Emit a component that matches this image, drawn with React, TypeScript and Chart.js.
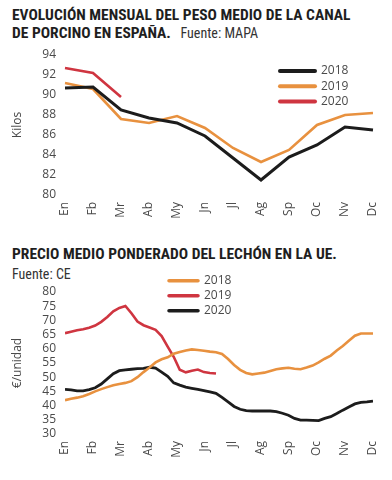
import React, { useEffect, useRef } from "react";
import { Chart, registerables } from "chart.js";

Chart.register(...registerables);

// ---------- data ----------
const MONTHS = ["En", "Fb", "Mr", "Ab", "My", "Jn", "Jl", "Ag", "Sp", "Oc", "Nv", "Dc"];

const PESO_2018 = [90.7, 90.8, 88.5, 87.7, 87.2, 85.9, 83.7, 81.5, 83.8, 85.0, 86.8, 86.5];
const PESO_2019 = [91.2, 90.6, 87.6, 87.2, 87.9, 86.7, 84.7, 83.3, 84.5, 87.0, 88.0, 88.2];
const PESO_2020 = [92.7, 92.2, 89.8];
const PESO_MIN = 80;
const PESO_MAX = 94;
const PESO_STEP = 2;

const LECHON_2018 = [
  41.9, 42.4, 42.8, 43.3, 44.1, 45.0, 45.8, 46.5, 47.2, 47.6,
  48.0, 48.6, 50.0, 51.8, 53.4, 55.2, 56.3, 57.0, 58.3, 58.9,
  59.4, 59.8, 59.6, 59.3, 59.0, 58.8, 58.2, 56.4, 54.3, 52.6,
  51.5, 51.0, 51.3, 51.6, 52.2, 52.8, 53.1, 53.3, 53.0, 52.8,
  53.4, 54.1, 55.2, 56.5, 57.6, 59.4, 61.0, 62.8, 64.6, 65.4,
  65.4, 65.4,
];
const LECHON_2019 = [
  65.5, 66.0, 66.5, 66.9, 67.4, 68.2, 69.5, 71.2, 73.2, 74.4,
  75.1, 72.5, 69.6, 68.3, 67.5, 66.7, 64.5, 60.8, 57.2, 52.6,
  51.7, 52.3, 52.7, 51.8, 51.5, 51.3,
];
const LECHON_2020 = [
  45.7, 45.5, 45.2, 45.2, 45.6, 46.3, 47.6, 49.4, 51.2, 52.3,
  52.6, 52.8, 53.0, 53.1, 53.5, 53.2, 51.8, 50.3, 48.0, 47.2,
  46.5, 46.1, 45.7, 45.3, 44.8, 44.3, 42.9, 41.3, 39.7, 38.7,
  38.2, 38.1, 38.1, 38.1, 38.1, 37.9, 37.3, 36.6, 35.5, 34.9,
  34.9, 34.8, 34.7, 35.5, 36.1, 37.2, 38.4, 39.5, 40.6, 41.1,
  41.3, 41.6,
];
const LECHON_MIN = 30;
const LECHON_MAX = 80;
const LECHON_STEP = 5;
const WEEKS_LAST = 51;

// ---------- styles ----------
const BLACK = "#1c1c1c";
const ORANGE = "#E8913F";
const RED = "#CF3540";
const TICK_COLOR = "#4a4a4a";
const TICK_FONT = { family: "'Open Sans', sans-serif", size: 12, lineHeight: 1 };
const TITLE_FAMILY = "'Liberation Sans Narrow', 'Roboto Condensed', Roboto, sans-serif";

const lineLegend = {
  id: "lineLegend",
  afterDraw(chart: any, _args: any, opts: any) {
    const { ctx } = chart;
    chart.data.datasets.forEach((ds: any, i: number) => {
      const yy = opts.y + i * opts.gap;
      ctx.save();
      ctx.strokeStyle = ds.borderColor;
      ctx.lineWidth = opts.lineWidth;
      ctx.lineCap = "round";
      ctx.beginPath();
      ctx.moveTo(opts.x, yy);
      ctx.lineTo(opts.x + opts.lineLen, yy);
      ctx.stroke();
      ctx.fillStyle = TICK_COLOR;
      ctx.font = "12px 'Open Sans', sans-serif";
      ctx.textBaseline = "middle";
      ctx.textAlign = "left";
      ctx.fillText(ds.label, opts.x + opts.lineLen + opts.textGap, yy);
      ctx.restore();
    });
  },
};

function yAxis(min: number, max: number, step: number, title: string) {
  return {
    min,
    max,
    afterFit: (s: any) => {
      s.width = 65;
    },
    grid: { display: false, drawTicks: false },
    border: { display: false },
    ticks: {
      stepSize: step,
      color: TICK_COLOR,
      font: TICK_FONT,
      padding: 9,
      autoSkip: false,
    },
    title: {
      display: true,
      text: title,
      color: TICK_COLOR,
      font: { family: "'Open Sans', sans-serif", size: 12 },
      padding: { top: 10, bottom: 0 },
    },
  };
}

function PesoChart() {
  const ref = useRef<HTMLCanvasElement>(null);
  useEffect(() => {
    const chart = new Chart(ref.current!, {
      type: "line",
      data: {
        labels: MONTHS,
        datasets: [
          { label: "2018", data: PESO_2018, borderColor: BLACK, borderWidth: 3 },
          { label: "2019", data: PESO_2019, borderColor: ORANGE, borderWidth: 2.6 },
          { label: "2020", data: PESO_2020, borderColor: RED, borderWidth: 2.6 },
        ],
      },
      options: {
        animation: false,
        responsive: true,
        maintainAspectRatio: false,
        elements: { point: { radius: 0 }, line: { tension: 0 } },
        layout: { padding: { top: 15, right: 15, left: 0, bottom: 0 } },
        plugins: {
          legend: { display: false },
          tooltip: { enabled: false },
          lineLegend: { x: 280, y: 31, gap: 15.3, lineLen: 35, textGap: 6, lineWidth: 4 },
        } as any,
        scales: {
          x: {
            afterFit: (s: any) => {
              s.height = 30;
            },
            grid: { display: false, drawTicks: false },
            border: { display: false },
            ticks: {
              color: TICK_COLOR,
              font: TICK_FONT,
              maxRotation: 90,
              minRotation: 90,
              autoSkip: false,
              padding: 7,
            },
          },
          y: yAxis(PESO_MIN, PESO_MAX, PESO_STEP, "Kilos") as any,
        },
      },
      plugins: [lineLegend],
    });
    return () => chart.destroy();
  }, []);
  return <canvas ref={ref} />;
}

function LechonChart() {
  const ref = useRef<HTMLCanvasElement>(null);
  useEffect(() => {
    const pts = (arr: number[]) => arr.map((v, w) => ({ x: w, y: v }));
    const chart = new Chart(ref.current!, {
      type: "line",
      data: {
        datasets: [
          { label: "2018", data: pts(LECHON_2018), borderColor: ORANGE, borderWidth: 2.6 },
          { label: "2019", data: pts(LECHON_2019), borderColor: RED, borderWidth: 2.6 },
          { label: "2020", data: pts(LECHON_2020), borderColor: BLACK, borderWidth: 2.8 },
        ],
      },
      options: {
        animation: false,
        responsive: true,
        maintainAspectRatio: false,
        elements: { point: { radius: 0 }, line: { tension: 0 } },
        layout: { padding: { top: 17, right: 15, left: 0, bottom: 0 } },
        plugins: {
          legend: { display: false },
          tooltip: { enabled: false },
          lineLegend: { x: 169, y: 5.7, gap: 15, lineLen: 29, textGap: 6, lineWidth: 3.5 },
        } as any,
        scales: {
          x: {
            type: "linear",
            min: 0,
            max: WEEKS_LAST,
            afterFit: (s: any) => {
              s.height = 46;
            },
            afterBuildTicks: (s: any) => {
              s.ticks = MONTHS.map((_, i) => ({ value: (i * WEEKS_LAST) / (MONTHS.length - 1) }));
            },
            grid: { display: false, drawTicks: false },
            border: { display: false },
            ticks: {
              color: TICK_COLOR,
              font: TICK_FONT,
              maxRotation: 90,
              minRotation: 90,
              autoSkip: false,
              padding: 7,
              callback: (_v: any, i: number) => MONTHS[i],
            },
          } as any,
          y: yAxis(LECHON_MIN, LECHON_MAX, LECHON_STEP, "€/unidad") as any,
        },
      },
      plugins: [lineLegend],
    });
    return () => chart.destroy();
  }, []);
  return <canvas ref={ref} />;
}

const titleStyle: React.CSSProperties = {
  position: "absolute",
  left: 12,
  fontFamily: TITLE_FAMILY,
  fontWeight: 700,
  fontSize: 15.5,
  color: "#1e1e1e",
  whiteSpace: "nowrap",
  lineHeight: "18px",
};
const srcStyle: React.CSSProperties = {
  fontWeight: 400,
  fontSize: 14,
  color: "#333",
};

export default function App() {
  return (
    <div
      style={{
        position: "fixed",
        left: 0,
        top: 0,
        width: 392,
        height: 480,
        background: "#fff",
        overflow: "hidden",
      }}
    >
      <div style={{ ...titleStyle, top: 6 }}>
        EVOLUCIÓN MENSUAL DEL PESO MEDIO DE LA CANAL
        <br />
        DE PORCINO EN ESPAÑA.<span style={srcStyle}>&nbsp;&nbsp; Fuente: MAPA</span>
      </div>
      <div style={{ position: "absolute", left: 0, top: 40, width: 392, height: 185 }}>
        <PesoChart />
      </div>
      <div style={{ ...titleStyle, top: 244, lineHeight: "20px" }}>
        PRECIO MEDIO PONDERADO DEL LECHÓN EN LA UE.
        <br />
        <span style={srcStyle}>Fuente: CE</span>
      </div>
      <div style={{ position: "absolute", left: 0, top: 275, width: 392, height: 205 }}>
        <LechonChart />
      </div>
    </div>
  );
}
